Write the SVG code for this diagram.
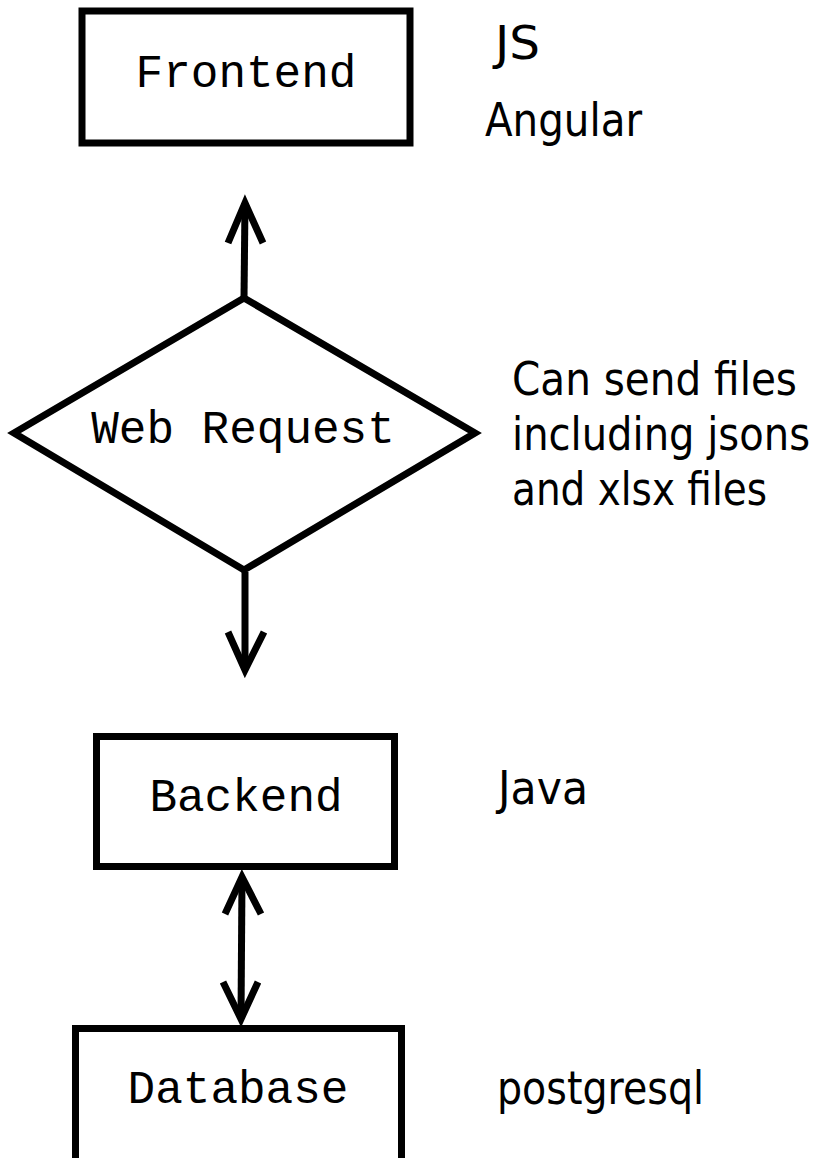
<svg xmlns="http://www.w3.org/2000/svg" width="819" height="1158" viewBox="0 0 819 1158">
<style>
.box{fill:#fff;stroke:#000;stroke-width:7}
.mono{font-family:"Liberation Mono","Courier New",monospace;font-size:46px;fill:#000;text-anchor:middle}
.note{font-family:"DejaVu Sans","Noto Sans",sans-serif;font-size:46px;fill:#000}
.conn{fill:none;stroke:#000;stroke-width:7;stroke-linecap:butt;stroke-linejoin:miter}
</style>
<rect width="819" height="1158" fill="#fff"/>
<g id="frontend">
<rect class="box" x="82" y="11" width="328" height="132"/>
<text class="mono" x="246" y="87">Frontend</text>
</g>
<g id="web-request">
<polygon class="box" points="244,298 475,433 244,570 14,433"/>
<text class="mono" x="243" y="443">Web Request</text>
</g>
<g id="backend">
<rect class="box" x="96.5" y="736.5" width="298" height="130"/>
<text class="mono" x="246" y="811">Backend</text>
</g>
<g id="database">
<rect class="box" x="75.5" y="1028.5" width="326" height="150"/>
<text class="mono" x="238" y="1103">Database</text>
</g>
<g id="connectors">
<path class="conn" d="M244,298 L245,203"/>
<path class="conn" d="M228,243 L245,203 L263,243"/>
<path class="conn" d="M245,572 L245,670"/>
<path class="conn" d="M228,632 L245,670 L264,632"/>
<path class="conn" d="M242,877 L241,1019"/>
<path class="conn" d="M225,914 L242,877 L261,914"/>
<path class="conn" d="M223,982 L241,1019 L258,982"/>
</g>
<g id="notes">
<text class="note" x="495" y="59" textLength="45" lengthAdjust="spacingAndGlyphs">JS</text>
<text class="note" x="485" y="136" textLength="157" lengthAdjust="spacingAndGlyphs">Angular</text>
<text class="note" x="512" y="395" textLength="285" lengthAdjust="spacingAndGlyphs">Can send files</text>
<text class="note" x="512" y="450" textLength="298" lengthAdjust="spacingAndGlyphs">including jsons</text>
<text class="note" x="512" y="505" textLength="255" lengthAdjust="spacingAndGlyphs">and xlsx files</text>
<text class="note" x="498" y="804" textLength="90" lengthAdjust="spacingAndGlyphs">Java</text>
<text class="note" x="497" y="1104" textLength="207" lengthAdjust="spacingAndGlyphs">postgresql</text>
</g>
</svg>
